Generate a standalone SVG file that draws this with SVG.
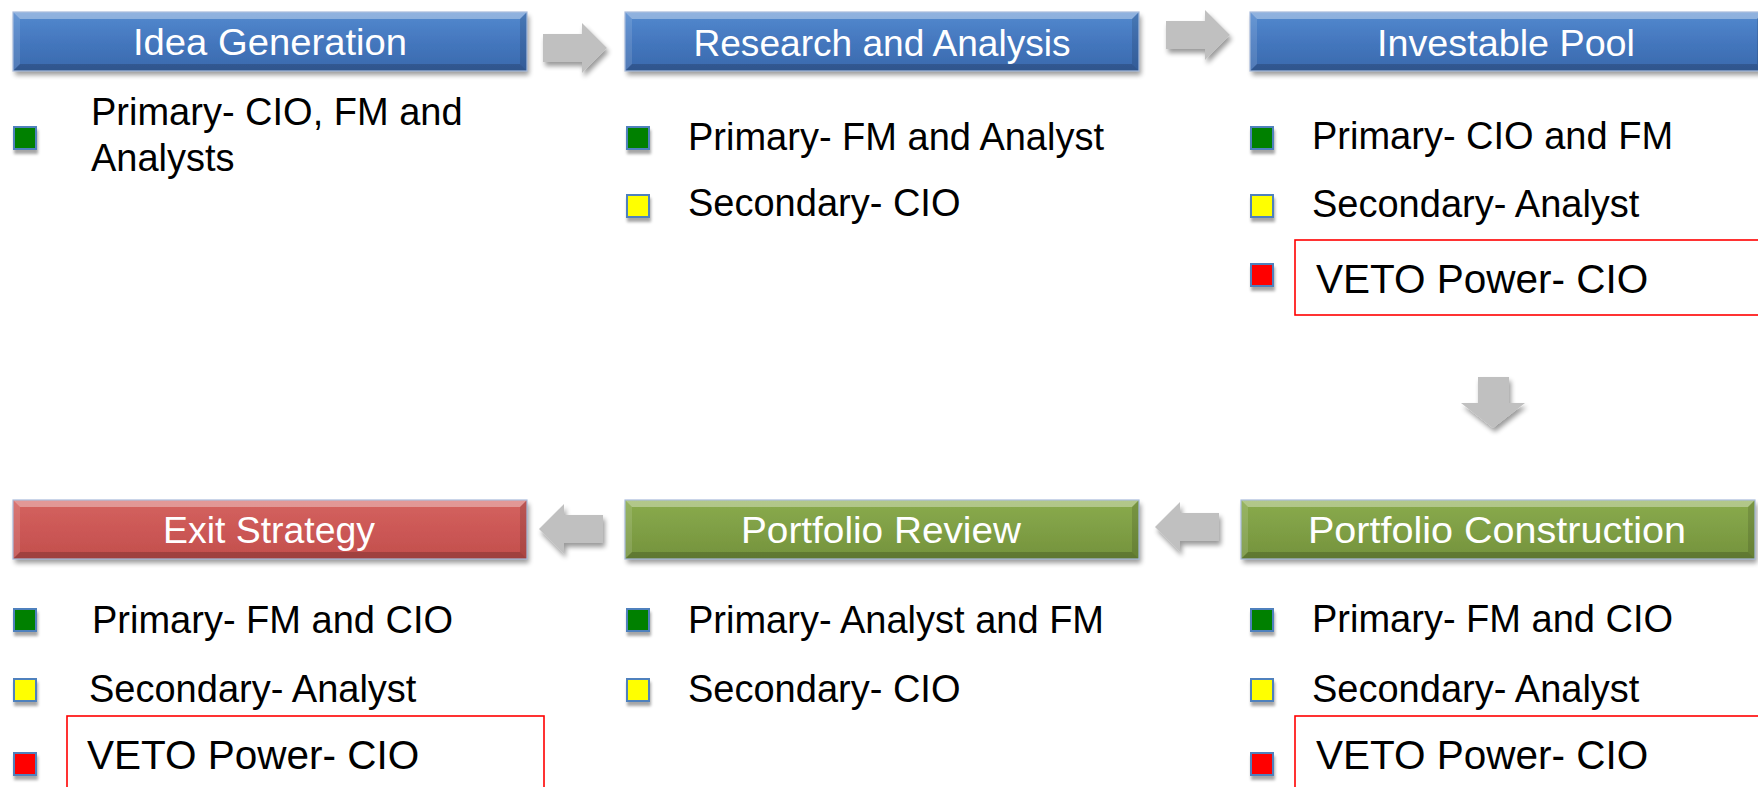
<svg xmlns="http://www.w3.org/2000/svg" xmlns:xlink="http://www.w3.org/1999/xlink" width="1758" height="787" viewBox="0 0 1758 787">
<style>
.title{font-family:"Liberation Sans",Arial,sans-serif;font-size:37px;fill:#ffffff;text-anchor:middle}
.body{font-family:"Liberation Sans",Arial,sans-serif;font-size:38px;fill:#000000}
.veto{font-family:"Liberation Sans",Arial,sans-serif;font-size:40.5px;fill:#000000}
.vbox{fill:none;stroke:#ff0000;stroke-width:1.6}
.sq{stroke:#4f81bd;stroke-width:2}
.g{fill:#008000}.y{fill:#ffff00}.r{fill:#ff0000}
.arrow{fill:#c0c0c0}
.edge{fill:none;stroke:#a9bcdc;stroke-width:1.2}
</style>
<defs>
<filter id="sh" x="-10%" y="-20%" width="125%" height="170%">
<feGaussianBlur in="SourceAlpha" stdDeviation="2.5"/>
<feOffset dx="2" dy="4" result="o"/>
<feComponentTransfer><feFuncA type="linear" slope="0.4"/></feComponentTransfer>
<feMerge><feMergeNode/><feMergeNode in="SourceGraphic"/></feMerge>
</filter>
<filter id="shs" x="-30%" y="-30%" width="170%" height="190%">
<feGaussianBlur in="SourceAlpha" stdDeviation="1.8"/>
<feOffset dx="1" dy="4"/>
<feComponentTransfer><feFuncA type="linear" slope="0.35"/></feComponentTransfer>
<feMerge><feMergeNode/><feMergeNode in="SourceGraphic"/></feMerge>
</filter>
<linearGradient id="blue" x1="0" y1="0" x2="0" y2="1">
<stop offset="0" stop-color="#548acf"/><stop offset="0.5" stop-color="#4477be"/><stop offset="1" stop-color="#3a69ad"/>
</linearGradient>
<linearGradient id="red" x1="0" y1="0" x2="0" y2="1">
<stop offset="0" stop-color="#d4625f"/><stop offset="0.5" stop-color="#cc5856"/><stop offset="1" stop-color="#c24e4c"/>
</linearGradient>
<linearGradient id="green" x1="0" y1="0" x2="0" y2="1">
<stop offset="0" stop-color="#8aab4d"/><stop offset="0.5" stop-color="#7f9f45"/><stop offset="1" stop-color="#74923c"/>
</linearGradient>
<g id="bevel">
<polygon points="0,0 514,0 507,7 7,7" fill="#ffffff" opacity="0.35"/>
<polygon points="0,0 7,7 7,52 0,59" fill="#ffffff" opacity="0.12"/>
<polygon points="0,59 7,52 507,52 514,59" fill="#000000" opacity="0.18"/>
<polygon points="514,0 514,59 507,52 507,7" fill="#000000" opacity="0.12"/>
<rect x="0" y="0" width="514" height="59" class="edge"/>
</g>
</defs>
<rect width="1758" height="787" fill="#ffffff"/>

<g id="connectors">
<polygon class="arrow" filter="url(#sh)" points="543,34 582,34 582,23 607,48 582,73 582,62 543,62"/>
<polygon class="arrow" filter="url(#sh)" points="1166,21 1205,21 1205,10 1230,35 1205,60 1205,49 1166,49"/>
<polygon class="arrow" filter="url(#sh)" points="1478,377 1509,377 1509,403 1525,403 1493,428 1461,403 1478,403"/>
<polygon class="arrow" filter="url(#sh)" points="603,515 564,515 564,504 539,529 564,554 564,543 603,543"/>
<polygon class="arrow" filter="url(#sh)" points="1219,513 1180,513 1180,502 1155,527 1180,552 1180,541 1219,541"/>
</g>

<g id="idea-generation">
<rect x="13" y="12" width="514" height="59" fill="url(#blue)" filter="url(#sh)"/>
<use xlink:href="#bevel" x="13" y="12"/>
<text class="title" x="270" y="55" textLength="274" lengthAdjust="spacingAndGlyphs">Idea Generation</text>
<rect class="sq g" x="14" y="127" width="22" height="22" filter="url(#shs)"/>
<text class="body" x="91" y="125">Primary- CIO, FM and</text>
<text class="body" x="91" y="171">Analysts</text>
</g>

<g id="research-analysis">
<rect x="625" y="12" width="514" height="59" fill="url(#blue)" filter="url(#sh)"/>
<use xlink:href="#bevel" x="625" y="12"/>
<text class="title" x="882" y="56" textLength="377" lengthAdjust="spacingAndGlyphs">Research and Analysis</text>
<rect class="sq g" x="627" y="127" width="22" height="22" filter="url(#shs)"/>
<text class="body" x="688" y="150">Primary- FM and Analyst</text>
<rect class="sq y" x="627" y="195" width="22" height="22" filter="url(#shs)"/>
<text class="body" x="688" y="216">Secondary- CIO</text>
</g>

<g id="investable-pool">
<rect x="1250" y="12" width="514" height="59" fill="url(#blue)" filter="url(#sh)"/>
<use xlink:href="#bevel" x="1250" y="12"/>
<text class="title" x="1506" y="56" textLength="258" lengthAdjust="spacingAndGlyphs">Investable Pool</text>
<rect class="sq g" x="1251" y="127" width="22" height="22" filter="url(#shs)"/>
<text class="body" x="1312" y="149">Primary- CIO and FM</text>
<rect class="sq y" x="1251" y="195" width="22" height="22" filter="url(#shs)"/>
<text class="body" x="1312" y="217">Secondary- Analyst</text>
<rect class="sq r" x="1251" y="264" width="22" height="22" filter="url(#shs)"/>
<rect class="vbox" x="1295" y="240" width="480" height="75"/>
<text class="veto" x="1316" y="293">VETO Power- CIO</text>
</g>

<g id="portfolio-construction">
<rect x="1241" y="500" width="514" height="59" fill="url(#green)" filter="url(#sh)"/>
<use xlink:href="#bevel" x="1241" y="500"/>
<text class="title" x="1497" y="543" textLength="378" lengthAdjust="spacingAndGlyphs">Portfolio Construction</text>
<rect class="sq g" x="1251" y="609" width="22" height="22" filter="url(#shs)"/>
<text class="body" x="1312" y="632">Primary- FM and CIO</text>
<rect class="sq y" x="1251" y="679" width="22" height="22" filter="url(#shs)"/>
<text class="body" x="1312" y="702">Secondary- Analyst</text>
<rect class="sq r" x="1251" y="753" width="22" height="22" filter="url(#shs)"/>
<rect class="vbox" x="1295" y="716" width="480" height="80"/>
<text class="veto" x="1316" y="769">VETO Power- CIO</text>
</g>

<g id="portfolio-review">
<rect x="625" y="500" width="514" height="59" fill="url(#green)" filter="url(#sh)"/>
<use xlink:href="#bevel" x="625" y="500"/>
<text class="title" x="881" y="543" textLength="280" lengthAdjust="spacingAndGlyphs">Portfolio Review</text>
<rect class="sq g" x="627" y="609" width="22" height="22" filter="url(#shs)"/>
<text class="body" x="688" y="633">Primary- Analyst and FM</text>
<rect class="sq y" x="627" y="679" width="22" height="22" filter="url(#shs)"/>
<text class="body" x="688" y="702">Secondary- CIO</text>
</g>

<g id="exit-strategy">
<rect x="13" y="500" width="514" height="59" fill="url(#red)" filter="url(#sh)"/>
<use xlink:href="#bevel" x="13" y="500"/>
<text class="title" x="269" y="543" textLength="212" lengthAdjust="spacingAndGlyphs">Exit Strategy</text>
<rect class="sq g" x="14" y="609" width="22" height="22" filter="url(#shs)"/>
<text class="body" x="92" y="633">Primary- FM and CIO</text>
<rect class="sq y" x="14" y="679" width="22" height="22" filter="url(#shs)"/>
<text class="body" x="89" y="702">Secondary- Analyst</text>
<rect class="sq r" x="14" y="753" width="22" height="22" filter="url(#shs)"/>
<rect class="vbox" x="67" y="716" width="477" height="80"/>
<text class="veto" x="87" y="769">VETO Power- CIO</text>
</g>
</svg>
